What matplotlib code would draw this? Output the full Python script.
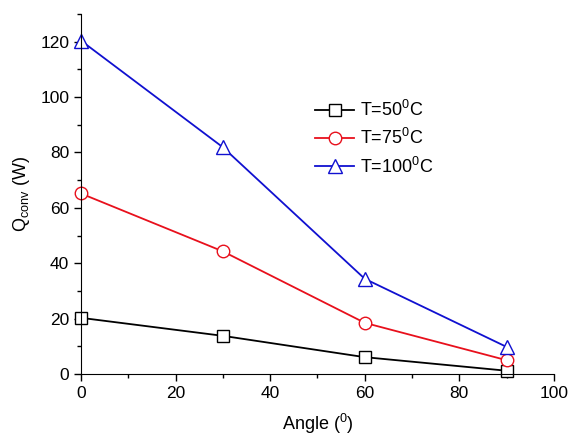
import matplotlib
matplotlib.use("Agg")
from matplotlib import pyplot as plt
from matplotlib.ticker import MultipleLocator

plt.rcParams['font.family'] = ['Liberation Sans', 'DejaVu Sans']
plt.rcParams['mathtext.fontset'] = 'custom'
plt.rcParams['mathtext.rm'] = 'Liberation Sans'

angle = [0, 30, 60, 90]
q_50 = [20.3, 13.8, 6.1, 1.2]
q_75 = [65.2, 44.3, 18.5, 5.0]
q_100 = [120.4, 81.9, 34.4, 9.8]

fig = plt.figure(figsize=(5.74, 4.38), dpi=100)
ax = fig.add_axes([0.141, 0.146, 0.824, 0.822])

ax.plot(angle, q_50, color='black', marker='s', mfc='white', mec='black',
        ms=8, lw=1.3, label='T=50$^\\mathrm{0}$C', clip_on=False)
ax.plot(angle, q_75, color='#e8101c', marker='o', mfc='white', mec='#e8101c',
        ms=9, lw=1.3, label='T=75$^\\mathrm{0}$C', clip_on=False)
ax.plot(angle, q_100, color='#1010d0', marker='^', mfc='white', mec='#1010d0',
        ms=10, lw=1.3, label='T=100$^\\mathrm{0}$C', clip_on=False)

ax.set_xlim(0, 100)
ax.set_ylim(0, 130)
ax.xaxis.set_major_locator(MultipleLocator(20))
ax.xaxis.set_minor_locator(MultipleLocator(10))
ax.yaxis.set_major_locator(MultipleLocator(20))
ax.yaxis.set_minor_locator(MultipleLocator(10))
ax.set_yticks(range(0, 121, 20))

for s in ['top', 'right']:
    ax.spines[s].set_visible(False)
ax.tick_params(which='major', direction='out', length=5, width=1, labelsize=12.5)
ax.tick_params(which='minor', direction='out', length=3, width=1)

ax.set_xlabel('Angle ($^\\mathrm{0}$)', fontsize=13, labelpad=8)
ax.set_ylabel('Q$_\\mathrm{conv}$ (W)', fontsize=13, labelpad=6)

ax.legend(loc='upper left', bbox_to_anchor=(0.46, 0.806), frameon=False,
          fontsize=13, handlelength=2.2, labelspacing=0.45, handletextpad=0.3)

fig.savefig('out.png', dpi=100)
